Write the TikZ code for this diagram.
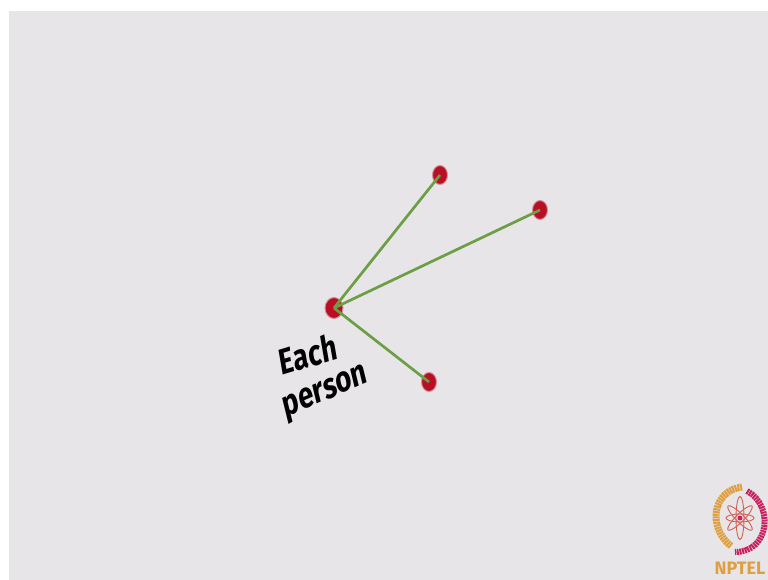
\documentclass[tikz,border=0pt]{standalone}
\usepackage{xcolor}
\usepackage{fontspec}
\setmainfont{Fira Sans}
\usetikzlibrary{positioning,shapes.geometric}
\definecolor{PanelGray}{HTML}{E7E5E8}
\definecolor{DotRed}{HTML}{B90F24}
\definecolor{EdgeGreen}{HTML}{6C9F45}
\definecolor{LogoOrange}{HTML}{DE9F42}
\definecolor{LogoPink}{HTML}{C8215F}

\begin{document}
\begin{tikzpicture}[
  x=1pt, y=-1pt,
  dot/.style={ellipse, fill=DotRed, draw=DotRed!40!PanelGray, line width=1pt, inner sep=0pt, minimum width=15pt, minimum height=19pt},
  hubdot/.style={dot, minimum width=18pt, minimum height=21pt},
  edge/.style={draw=EdgeGreen, line width=2.7pt},
  hand/.style={font=\fontsize{28}{29}\selectfont\bfseries, text=black, inner sep=0pt, yscale=1.3, xscale=.98},
  petal/.style={ellipse, draw=LogoPink!50!LogoOrange, line width=.9pt, inner sep=0pt, minimum height=8pt}
]
  \useasboundingbox (0,0) rectangle (768,580);
  \fill[white] (0,0) rectangle (768,580);
  \fill[PanelGray] (9,11) rectangle (768,580);

  \node[hubdot] (hub) at (334,308) {};
  \node[dot] (top) at (440,175) {};
  \node[dot] (right) at (540,210) {};
  \node[dot] (low) at (429,382) {};
  \draw[edge] (hub.center) -- (top.center);
  \draw[edge] (hub.center) -- (right.center);
  \draw[edge] (hub.center) -- (low.center);

  \node[hand, rotate=13] (each) at (308,354) {Each};
  \node[hand, rotate=18] (person) at (326,394) {person};

  % logo
  \coordinate (logo) at (740,518);
  \foreach \a/\l in {0/28,45/34,90/43,135/34}
    \node[petal, rotate=\a, minimum width=\l pt] at (logo) {};
  \fill[LogoPink] (logo) circle (2.5pt);
  \draw[LogoOrange, line width=7pt, dash pattern=on 2pt off .7pt] (742,487) .. controls (714,490) and (706,526) .. (731,546);
  \draw[LogoPink, line width=6pt, dash pattern=on 2pt off .7pt] (747,491) .. controls (774,505) and (770,552) .. (735,552);
  \node[font=\fontsize{18}{18}\selectfont\bfseries, text=LogoOrange, inner sep=0pt] (nptel) at (740,568) {NPTEL};
\end{tikzpicture}
\end{document}
